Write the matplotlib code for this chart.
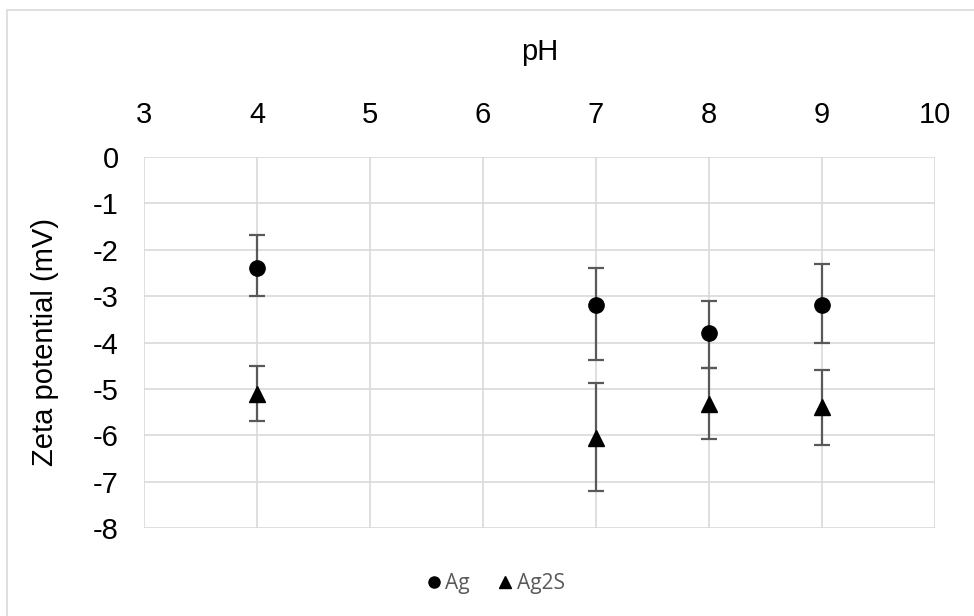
import matplotlib.pyplot as plt
from matplotlib.lines import Line2D
from matplotlib.patches import Rectangle

# data
ph = [4, 7, 8, 9]
ag = [-2.4, -3.2, -3.8, -3.2]
ag_err_lo = [0.6, 1.17, 0.76, 0.8]
ag_err_hi = [0.72, 0.8, 0.7, 0.9]
ag2s = [-5.1, -6.05, -5.32, -5.4]
ag2s_err_lo = [0.6, 1.15, 0.76, 0.8]
ag2s_err_hi = [0.6, 1.17, 0.76, 0.8]

xticks = [3, 4, 5, 6, 7, 8, 9, 10]
yticks = [0, -1, -2, -3, -4, -5, -6, -7, -8]

plt.rcParams['font.family'] = ['Liberation Sans', 'DejaVu Sans']
plt.rcParams['axes.unicode_minus'] = False

fig = plt.figure(figsize=(9.74, 6.16), dpi=100)
# chart-area border, only top and left edges are inside the picture
fig.patches.append(Rectangle((7 / 974, -10 / 616), 1.1, (616 - 10 + 10) / 616,
                             transform=fig.transFigure, fill=False,
                             edgecolor='#d9d9d9', linewidth=1.2))
ax = fig.add_axes([144 / 974, 88 / 616, 791 / 974, 371 / 616])

grid_c = '#d9d9d9'
err_c = '#595959'
ax.errorbar(ph, ag, yerr=[ag_err_lo, ag_err_hi], fmt='o', color='black',
            markersize=11, ecolor=err_c, elinewidth=1.6, capsize=6,
            capthick=1.6, zorder=3)
ax.errorbar(ph, ag2s, yerr=[ag2s_err_lo, ag2s_err_hi], fmt='^', color='black',
            markersize=11, ecolor=err_c, elinewidth=1.6, capsize=6,
            capthick=1.6, zorder=3)

ax.set_xlim(3, 10)
ax.set_ylim(-8, 0)
ax.set_xticks(xticks)
ax.set_yticks(yticks)
ax.xaxis.tick_top()
ax.xaxis.set_label_position('top')
ax.grid(True, color=grid_c, linewidth=1.2)
ax.set_axisbelow(True)
for s in ax.spines.values():
    s.set_visible(False)
ax.tick_params(axis='x', length=0, labelsize=21, pad=20)
ax.tick_params(axis='y', length=0, labelsize=21, pad=18)
ax.set_xlabel('pH', fontsize=21, labelpad=30)
ax.set_ylabel('Zeta potential (mV)', fontsize=21)
ax.yaxis.set_label_coords(59 / 974, (616 - 342) / 616, transform=fig.transFigure)

handles = [
    Line2D([], [], marker='o', color='black', linestyle='none', markersize=8),
    Line2D([], [], marker='^', color='black', linestyle='none', markersize=8),
]
fig.legend(handles, ['Ag', 'Ag2S'], loc='center', bbox_to_anchor=(496 / 974, 1 - 584 / 616),
           ncol=2, frameon=False, handlelength=0.6, handletextpad=0.25, columnspacing=1.4,
           prop={'family': 'Open Sans', 'size': 15}, labelcolor='#595959')

fig.savefig('out.png', dpi=100)
